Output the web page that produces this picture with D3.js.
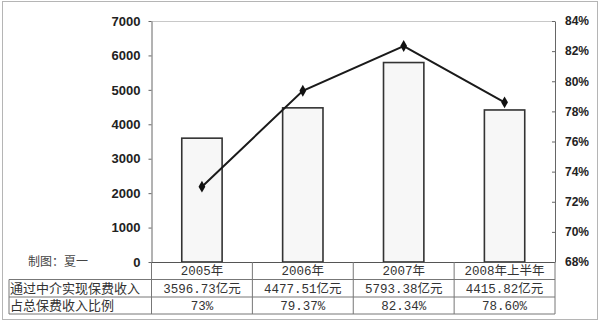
<!DOCTYPE html>
<html><head><meta charset="utf-8">
<script src="https://cdn.jsdelivr.net/npm/d3@7"></script>
<style>body{margin:0;background:#fff}svg{display:block}</style>
</head><body>
<svg id="c" width="600" height="322"></svg>
<script>
const categories = ["2005年","2006年","2007年","2008年上半年"];
const premium = [3596.73, 4477.51, 5793.38, 4415.82];
const share = [73, 79.37, 82.34, 78.60];
const premiumLabels = ["3596.73亿元","4477.51亿元","5793.38亿元","4415.82亿元"];
const shareLabels = ["73%","79.37%","82.34%","78.60%"];
const rowTitles = ["通过中介实现保费收入","占总保费收入比例"];
const leftTicks = [0,1000,2000,3000,4000,5000,6000,7000];
const rightTicks = [68,70,72,74,76,78,80,82,84];
const credit = "制图：夏一";

const svg = d3.select("#c");
const L = 151.5, R = 555, T = 21, B = 262;
const x = d3.scaleBand().domain(categories).range([L, R]).paddingInner(0.6).paddingOuter(0.3);
const xc = d3.scaleBand().domain(categories).range([L, R]);
const y = d3.scaleLinear().domain([0, 7000]).range([B, T]);
const y2 = d3.scaleLinear().domain([68, 84]).range([B, T]);

svg.append("rect").attr("x",2.5).attr("y",1.5).attr("width",595).attr("height",318)
  .attr("fill","none").attr("stroke","#b5b5b5");

svg.append("line").attr("x1",L).attr("x2",R).attr("y1",T+0.5).attr("y2",T+0.5).attr("stroke","#c8c8c8");

svg.selectAll("rect.bar").data(premium).join("rect").attr("class","bar")
  .attr("x",(d,i)=>x(categories[i])).attr("width",x.bandwidth())
  .attr("y",d=>y(d)).attr("height",d=>B-y(d))
  .attr("fill","#f7f7f7").attr("stroke","#333").attr("stroke-width",1.6);

const ga = svg.append("g").attr("transform",`translate(${L},0)`)
  .call(d3.axisLeft(y).tickValues(leftTicks).tickFormat(d3.format("d")).tickSize(3).tickSizeOuter(0).tickPadding(8));
ga.select(".domain").attr("stroke","#666");
ga.selectAll(".tick line").attr("stroke","#666");
ga.selectAll("text").attr("font-family","Liberation Sans, Arial, sans-serif").attr("font-size",13)
  .attr("font-weight","bold").attr("fill","#222");

const gb = svg.append("g").attr("transform",`translate(${R},0)`)
  .call(d3.axisRight(y2).tickValues(rightTicks).tickFormat(d=>d+"%").tickSize(-3).tickSizeOuter(0).tickPadding(10));
gb.select(".domain").attr("stroke","#666");
gb.selectAll(".tick line").attr("stroke","#666");
gb.selectAll("text").attr("font-family","Liberation Sans, Arial, sans-serif").attr("font-size",12)
  .attr("font-weight","bold").attr("fill","#222");

const cx = (d,i)=>x(categories[i]) + x.bandwidth()/2;
svg.append("path").datum(share)
  .attr("d", d3.line().x(cx).y(d=>y2(d)))
  .attr("fill","none").attr("stroke","#1a1a1a").attr("stroke-width",2);
svg.selectAll("path.mk").data(share).join("path").attr("class","mk")
  .attr("d", d3.symbol(d3.symbolDiamond, 40))
  .attr("transform",(d,i)=>`translate(${cx(d,i)},${y2(d)})`)
  .attr("fill","#111");

const rows = [B, 279.5, 297, 314];
const TL = 9;
const tg = svg.append("g").attr("stroke","#777").attr("stroke-width",1);
tg.append("line").attr("x1",TL).attr("x2",R).attr("y1",rows[1]).attr("y2",rows[1]);
tg.append("line").attr("x1",TL).attr("x2",R).attr("y1",rows[2]).attr("y2",rows[2]);
tg.append("line").attr("x1",TL).attr("x2",R).attr("y1",rows[3]).attr("y2",rows[3]);
tg.append("line").attr("x1",L).attr("x2",R).attr("y1",B+0.5).attr("y2",B+0.5).attr("stroke","#555");
tg.append("line").attr("x1",TL).attr("x2",TL).attr("y1",rows[1]).attr("y2",rows[3]);
tg.append("line").attr("x1",L).attr("x2",L).attr("y1",B).attr("y2",rows[3]);
categories.forEach(c=>{
  const xe = xc(c)+xc.bandwidth();
  tg.append("line").attr("x1",xe).attr("x2",xe).attr("y1",B).attr("y2",rows[3]);
});

const tf = "Liberation Mono, 'Noto Sans CJK SC', monospace";
svg.selectAll("text.cat").data(categories).join("text").attr("class","cat")
  .attr("x",d=>xc(d)+xc.bandwidth()/2).attr("y",(rows[0]+rows[1])/2).attr("dy","0.36em")
  .attr("text-anchor","middle").attr("font-family",tf).attr("font-size",12.5).attr("fill","#333").text(d=>d);
svg.selectAll("text.pv").data(premiumLabels).join("text").attr("class","pv")
  .attr("x",(d,i)=>xc(categories[i])+xc.bandwidth()/2).attr("y",(rows[1]+rows[2])/2).attr("dy","0.36em")
  .attr("text-anchor","middle").attr("font-family",tf).attr("font-size",12.5).attr("fill","#333").text(d=>d);
svg.selectAll("text.sv").data(shareLabels).join("text").attr("class","sv")
  .attr("x",(d,i)=>xc(categories[i])+xc.bandwidth()/2).attr("y",(rows[2]+rows[3])/2).attr("dy","0.36em")
  .attr("text-anchor","middle").attr("font-family",tf).attr("font-size",12.5).attr("fill","#333").text(d=>d);
svg.selectAll("text.rt").data(rowTitles).join("text").attr("class","rt")
  .attr("x",TL+1).attr("y",(d,i)=>(rows[i+1]+rows[i+2])/2).attr("dy","0.35em")
  .attr("font-family","'Noto Sans CJK SC', sans-serif").attr("font-size",13).attr("fill","#333").text(d=>d);

svg.append("text").attr("x",28).attr("y",B).attr("dy","0.36em")
  .attr("font-family","'Noto Sans CJK SC', sans-serif").attr("font-size",12).attr("fill","#444").text(credit);
</script>
</body></html>
